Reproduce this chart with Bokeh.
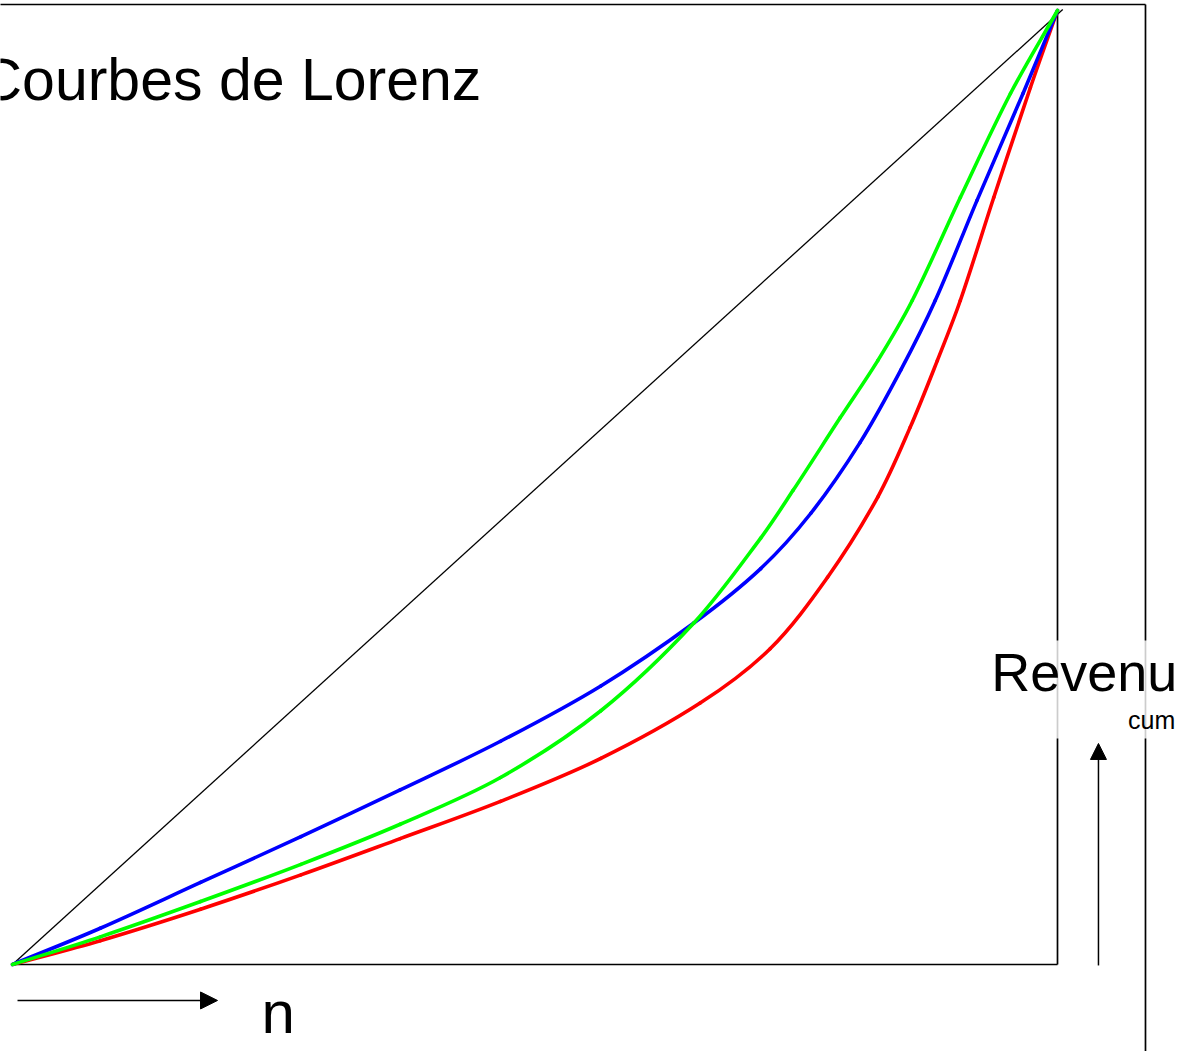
from bokeh.plotting import figure
from bokeh.models import Range1d, Arrow, NormalHead
from bokeh.core.properties import value
from bokeh.embed import file_html
from bokeh.resources import INLINE

# Lorenz curves: cumulative population share (x) vs cumulative income share (y)
blue_x = [0.0, 0.084, 0.180, 0.276, 0.371, 0.467, 0.563, 0.652, 0.716, 0.764, 0.811, 0.850, 0.883, 0.923, 0.967, 1.0]
blue_y = [0.0, 0.038, 0.086, 0.134, 0.183, 0.234, 0.292, 0.358, 0.415, 0.473, 0.547, 0.623, 0.696, 0.801, 0.913, 1.0]

green_x = [0.0, 0.084, 0.180, 0.276, 0.371, 0.467, 0.563, 0.652, 0.716, 0.747, 0.792, 0.828, 0.861, 0.907, 0.955, 1.0]
green_y = [0.0, 0.029, 0.066, 0.105, 0.147, 0.196, 0.266, 0.358, 0.447, 0.497, 0.573, 0.633, 0.696, 0.804, 0.913, 1.0]

red_x = [0.0, 0.084, 0.180, 0.276, 0.371, 0.467, 0.563, 0.658, 0.725, 0.780, 0.828, 0.859, 0.885, 0.907, 0.939, 0.974, 1.0]
red_y = [0.0, 0.025, 0.058, 0.094, 0.132, 0.171, 0.216, 0.274, 0.331, 0.406, 0.490, 0.563, 0.633, 0.696, 0.804, 0.919, 1.0]

# equality line
diag_x = [0.0, 1.005]
diag_y = [0.0, 1.001]

title_text = "Courbes de Lorenz"
x_label = "n"
y_label = "Revenu"
y_label_sub = "cum"


def smooth_segments(xs, ys, sx=1045.0, sy=954.0):
    """Smooth (chord-length Catmull-Rom) bezier rendering through the read points."""
    n = len(xs)
    t = [0.0]
    for i in range(1, n):
        dx = (xs[i] - xs[i - 1]) * sx
        dy = (ys[i] - ys[i - 1]) * sy
        t.append(t[-1] + (dx * dx + dy * dy) ** 0.5)
    mx, my = [], []
    for i in range(n):
        a = max(i - 1, 0)
        b = min(i + 1, n - 1)
        dt = t[b] - t[a]
        mx.append((xs[b] - xs[a]) / dt)
        my.append((ys[b] - ys[a]) / dt)
    out = dict(x0=[], y0=[], x1=[], y1=[], cx0=[], cy0=[], cx1=[], cy1=[])
    for i in range(n - 1):
        h = (t[i + 1] - t[i]) / 3.0
        out["x0"].append(xs[i]); out["y0"].append(ys[i])
        out["x1"].append(xs[i + 1]); out["y1"].append(ys[i + 1])
        out["cx0"].append(xs[i] + mx[i] * h); out["cy0"].append(ys[i] + my[i] * h)
        out["cx1"].append(xs[i + 1] - mx[i + 1] * h); out["cy1"].append(ys[i + 1] - my[i + 1] * h)
    return out


p = figure(width=1197, height=1051, output_backend="svg", toolbar_location=None,
           x_range=Range1d(-0.011483, 1.133971), y_range=Range1d(-0.091195, 1.010482),
           x_axis_location=None, y_axis_location=None, min_border=0,
           outline_line_color=None, background_fill_color="white", border_fill_color="white")
p.xgrid.visible = False
p.ygrid.visible = False

# outer frame (top and right)
p.line([-0.05, 1.0842], [1.0063, 1.0063], line_color="black", line_width=1.7)
p.line([1.0842, 1.0842], [1.0063, -0.2], line_color="black", line_width=1.7)

# inner frame (bottom and right)
p.line([0.0, 1.0], [0.0, 0.0], line_color="black", line_width=1.7)
p.line([1.0, 1.0], [0.0, 1.001], line_color="black", line_width=1.7)

# equality diagonal
p.line(diag_x, diag_y, line_color="black", line_width=1.3)

# curves
for xs, ys, col in [(red_x, red_y, "#FF0000"), (blue_x, blue_y, "#0000FF"), (green_x, green_y, "#00FF00")]:
    seg = smooth_segments(xs, ys)
    p.bezier(x0=seg["x0"], y0=seg["y0"], x1=seg["x1"], y1=seg["y1"],
             cx0=seg["cx0"], cy0=seg["cy0"], cx1=seg["cx1"], cy1=seg["cy1"],
             line_color=col, line_width=3.6, line_cap="round")

# semi-transparent label box
p.quad(left=[0.936], right=[1.124], bottom=[0.2369], top=[0.3396],
       fill_color="white", fill_alpha=0.8, line_color=None)

font = value("Liberation Sans")
p.text(x=[-0.0316], y=[0.9267], text=[title_text], text_font=font,
       text_font_size="59px", text_color="black", text_baseline="alphabetic", text_align="left")
p.text(x=[0.2383], y=[-0.0503], text=[x_label], text_font=font,
       text_font_size="60px", text_color="black", text_baseline="alphabetic", text_align="left")
p.text(x=[0.9365], y=[0.3061], text=[y_label], text_font=font,
       text_font_size="54px", text_color="black", text_baseline="alphabetic", text_align="left")
p.text(x=[1.0675], y=[0.2558], text=[y_label_sub], text_font=font,
       text_font_size="25px", text_color="black", text_baseline="alphabetic", text_align="left")

# arrows
p.add_layout(Arrow(x_start=0.0048, y_start=-0.0377, x_end=0.1962, y_end=-0.0377,
                   line_color="black", line_width=1.5,
                   end=NormalHead(size=17, fill_color="black", line_color="black")))
p.add_layout(Arrow(x_start=1.0392, y_start=-0.001, x_end=1.0392, y_end=0.2317,
                   line_color="black", line_width=1.5,
                   end=NormalHead(size=16, fill_color="black", line_color="black")))

open("out.html", "w").write(file_html(p, INLINE))
